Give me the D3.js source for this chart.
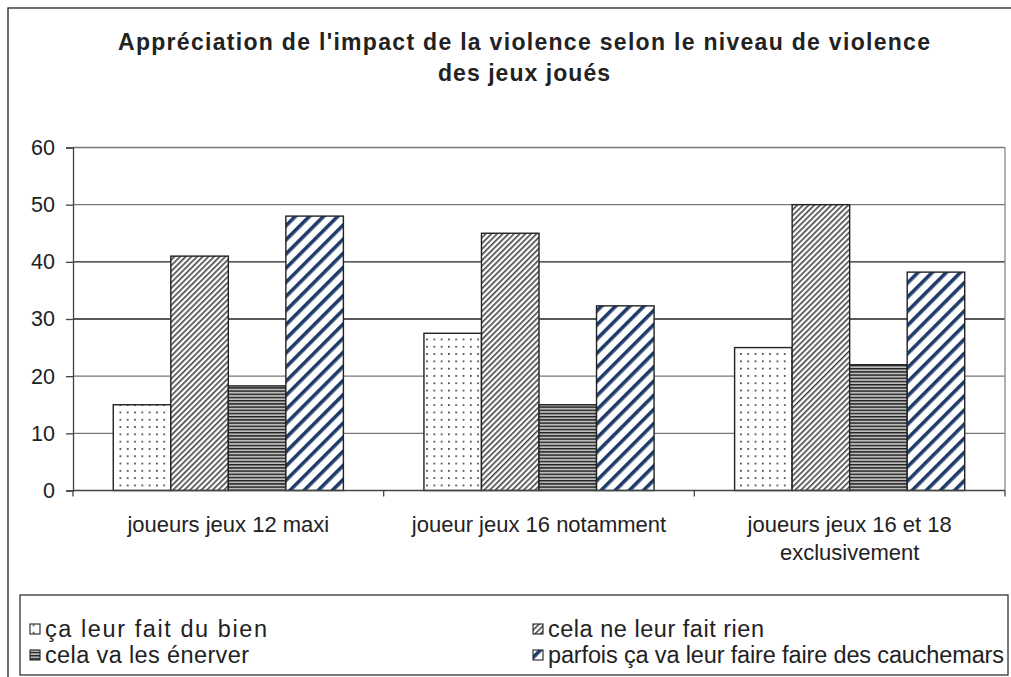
<!DOCTYPE html>
<html>
<head>
<meta charset="utf-8">
<script src="https://cdn.jsdelivr.net/npm/d3@7"></script>
<style>
  body { margin: 0; background: #fff; }
  text { font-family: "Liberation Sans", Arial, sans-serif; fill: #222; }
</style>
</head>
<body>
<div id="chart"></div>
<script>
var categories = [["joueurs jeux 12 maxi"], ["joueur jeux 16 notamment"], ["joueurs jeux 16 et 18", "exclusivement"]];
var seriesNames = ["ça leur fait du bien", "cela ne leur fait rien", "cela va les énerver", "parfois ça va leur faire faire des cauchemars"];
var values = [
  [15, 27.5, 25],
  [41, 45, 50],
  [18.3, 15, 22],
  [48, 32.3, 38.2]
];
var yTicks = [0, 10, 20, 30, 40, 50, 60];

var width = 1011, height = 677;
var plot = { left: 73, right: 1005, top: 147.5, bottom: 490.5 };

var svg = d3.select("#chart").append("svg")
    .attr("width", width)
    .attr("height", height);

// patterns
var defs = svg.append("defs");
var p0 = defs.append("pattern").attr("id", "pat0").attr("patternUnits", "userSpaceOnUse")
    .attr("width", 7.3).attr("height", 7.3);
p0.append("rect").attr("width", 7.3).attr("height", 7.3).attr("fill", "#fff");
p0.append("circle").attr("cx", 3.6).attr("cy", 3.6).attr("r", 0.9).attr("fill", "#222");

var p1 = defs.append("pattern").attr("id", "pat1").attr("patternUnits", "userSpaceOnUse")
    .attr("width", 4).attr("height", 4).attr("patternTransform", "rotate(45)");
p1.append("rect").attr("width", 4).attr("height", 4).attr("fill", "#fff");
p1.append("rect").attr("width", 1.6).attr("height", 4).attr("fill", "#444");

var p2 = defs.append("pattern").attr("id", "pat2").attr("patternUnits", "userSpaceOnUse")
    .attr("width", 4).attr("height", 3.2);
p2.append("rect").attr("width", 4).attr("height", 3.2).attr("fill", "#bbb");
p2.append("rect").attr("width", 4).attr("height", 1.4).attr("fill", "#222");

var p3 = defs.append("pattern").attr("id", "pat3").attr("patternUnits", "userSpaceOnUse")
    .attr("width", 10).attr("height", 10).attr("patternTransform", "rotate(45)");
p3.append("rect").attr("width", 10).attr("height", 10).attr("fill", "#fff");
p3.append("rect").attr("width", 3.6).attr("height", 10).attr("fill", "#1e3c6a");

// outer border
svg.append("rect")
    .attr("x", 8).attr("y", 8).attr("width", width + 10).attr("height", height + 10)
    .attr("fill", "none").attr("stroke", "#222").attr("stroke-width", 1.3);

// title (the original is letter-spaced, so stretch to the measured widths)
var titleLines = ["Appréciation de l'impact de la violence selon le niveau de violence", "des jeux joués"];
var titleWidths = [812, 172];
svg.append("g").selectAll("text").data(titleLines).enter().append("text")
    .attr("x", function (d, i) { return 524 - titleWidths[i] / 2; })
    .attr("y", function (d, i) { return 50 + i * 31; })
    .attr("textLength", function (d, i) { return titleWidths[i]; })
    .style("font-weight", "bold").style("font-size", "23px")
    .text(function (d) { return d; });

var x0 = d3.scaleBand().domain(d3.range(categories.length)).range([plot.left, plot.right]).paddingInner(0).paddingOuter(0);
var x1 = d3.scaleBand().domain(d3.range(seriesNames.length)).range([0, x0.bandwidth()]).paddingOuter(0.7).paddingInner(0);
var y = d3.scaleLinear().domain([0, 60]).range([plot.bottom, plot.top]);

// gridlines
svg.append("g").selectAll("line").data(yTicks.slice(1)).enter().append("line")
    .attr("x1", plot.left).attr("x2", plot.right)
    .attr("y1", function (d) { return y(d); }).attr("y2", function (d) { return y(d); })
    .attr("stroke", function (d) { return (d === 30 || d === 40) ? "#222" : "#777"; })
    .attr("stroke-width", 1.3);

// plot frame right side
svg.append("line")
    .attr("x1", plot.right).attr("x2", plot.right).attr("y1", plot.top).attr("y2", plot.bottom)
    .attr("stroke", "#888").attr("stroke-width", 1.3);

// bars
var groups = svg.append("g").selectAll("g").data(seriesNames).enter().append("g")
    .attr("fill", function (d, i) { return "url(#pat" + i + ")"; });
groups.selectAll("rect").data(function (d, i) {
    return values[i].map(function (v, j) { return { s: i, c: j, v: v }; });
  }).enter().append("rect")
    .attr("x", function (d) { return x0(d.c) + x1(d.s); })
    .attr("width", x1.bandwidth())
    .attr("y", function (d) { return y(d.v); })
    .attr("height", function (d) { return y(0) - y(d.v); })
    .attr("stroke", "#222").attr("stroke-width", 1.4);

// y axis
var yAxis = svg.append("g")
    .attr("transform", "translate(" + plot.left + ",0)")
    .call(d3.axisLeft(y).tickValues(yTicks).tickSize(7).tickPadding(11));
yAxis.select(".domain").attr("stroke", "#444").attr("stroke-width", 1.3);
yAxis.selectAll(".tick line").attr("stroke", "#444").attr("stroke-width", 1.3);
yAxis.selectAll("text").style("font-size", "21.5px").attr("fill", "#222").attr("font-family", null);

// x axis
var xAxis = svg.append("g")
    .attr("transform", "translate(0," + plot.bottom + ")");
xAxis.append("line").attr("x1", plot.left).attr("x2", plot.right)
    .attr("stroke", "#444").attr("stroke-width", 1.3);
xAxis.selectAll(".xt").data(d3.range(categories.length + 1)).enter().append("line")
    .attr("class", "xt")
    .attr("x1", function (d) { return plot.left + d * x0.step(); })
    .attr("x2", function (d) { return plot.left + d * x0.step(); })
    .attr("y1", 0).attr("y2", 6)
    .attr("stroke", "#444").attr("stroke-width", 1.3);
var xl = xAxis.selectAll(".xl").data(categories).enter().append("text")
    .attr("class", "xl")
    .attr("text-anchor", "middle")
    .style("font-size", "22px");
xl.each(function (d, i) {
  var t = d3.select(this);
  d.forEach(function (line, k) {
    t.append("tspan").attr("x", x0(i) + x0.bandwidth() / 2).attr("y", 41.5 + k * 28).text(line);
  });
});

// legend
svg.append("rect")
    .attr("x", 20).attr("y", 595).attr("width", 988).attr("height", 80)
    .attr("fill", "#fff").attr("stroke", "#333").attr("stroke-width", 1.3);
var legendX = [30, 533], legendY = [629, 655];
var legendWidths = [222, 216, 204, 456];
var leg = svg.append("g").selectAll("g").data(seriesNames).enter().append("g")
    .attr("transform", function (d, i) { return "translate(" + legendX[i % 2] + "," + legendY[Math.floor(i / 2)] + ")"; });
leg.append("rect")
    .attr("x", 0).attr("y", -5).attr("width", 10).attr("height", 10)
    .attr("fill", function (d, i) { return "url(#pat" + i + ")"; })
    .attr("stroke", "#222").attr("stroke-width", 1.1);
leg.append("text")
    .attr("x", 15).attr("y", 8)
    .attr("textLength", function (d, i) { return legendWidths[i]; })
    .style("font-size", "23.5px")
    .text(function (d) { return d; });
</script>
</body>
</html>
